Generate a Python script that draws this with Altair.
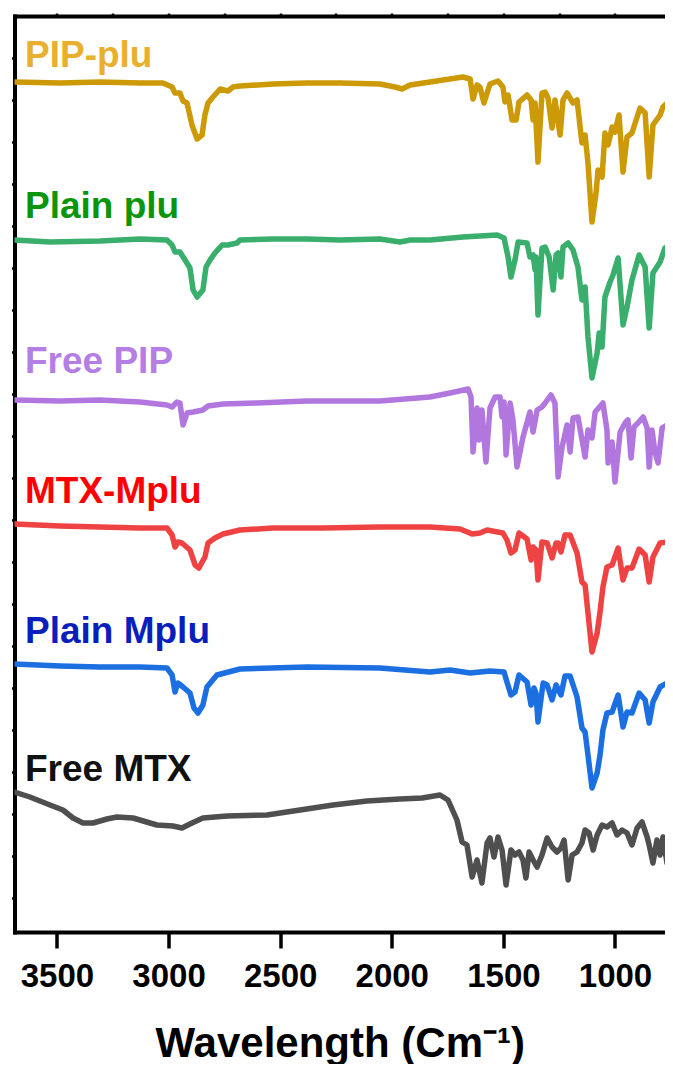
import altair as alt
import pandas as pd

# ---------------- data ----------------
names = ["PIP-plu", "Plain plu", "Free PIP", "MTX-Mplu", "Plain Mplu", "Free MTX"]

pip_plu_wn = [3690, 3486, 3307, 3128, 3025, 2984, 2971, 2949, 2935, 2917, 2895, 2872, 2850, 2837, 2823,
              2801, 2769, 2734, 2711, 2680, 2532, 2380, 2232, 2053, 1985, 1954, 1918, 1829, 1681, 1649,
              1636, 1618, 1605, 1587, 1560, 1524, 1502, 1493, 1479, 1461, 1443, 1430, 1394, 1376, 1367,
              1358, 1345, 1327, 1313, 1300, 1282, 1269, 1246, 1233, 1215, 1188, 1170, 1148, 1134, 1121,
              1103, 1085, 1076, 1058, 1045, 1031, 1013, 1000, 982, 964, 946, 924, 888, 865, 847,
              830, 798, 785, 744]
pip_plu_t = [8.50, 8.49, 8.50, 8.49, 8.49, 8.45, 8.39, 8.39, 8.31, 8.29, 8.07, 7.93, 7.97, 8.17, 8.29,
             8.35, 8.43, 8.41, 8.45, 8.46, 8.48, 8.49, 8.49, 8.48, 8.45, 8.43, 8.47, 8.50, 8.55, 8.53,
             8.33, 8.47, 8.45, 8.29, 8.48, 8.51, 8.45, 8.30, 8.37, 8.12, 8.12, 8.30, 8.37, 8.32, 8.12,
             8.29, 7.70, 8.39, 8.40, 8.34, 8.04, 8.32, 7.97, 8.32, 8.39, 8.29, 8.32, 7.89, 7.97, 7.69,
             7.10, 7.39, 7.62, 7.55, 7.99, 7.87, 8.05, 8.00, 8.17, 7.60, 7.95, 7.99, 8.24, 8.19, 7.55,
             8.07, 8.17, 8.25, 8.34]

plain_plu_wn = [3690, 3531, 3307, 3128, 3007, 2984, 2971, 2949, 2926, 2904, 2890, 2872, 2846, 2832, 2814,
                2792, 2760, 2734, 2693, 2680, 2532, 2380, 2232, 2053, 1963, 1918, 1829, 1681, 1605, 1528,
                1497, 1479, 1466, 1448, 1434, 1394, 1381, 1367, 1358, 1354, 1345, 1327, 1313, 1295, 1277,
                1264, 1255, 1242, 1233, 1210, 1188, 1166, 1148, 1134, 1121, 1103, 1080, 1071, 1058, 1045,
                1022, 1009, 986, 964, 946, 924, 892, 865, 847, 830, 798, 776, 744]
plain_plu_t = [6.92, 6.90, 6.91, 6.93, 6.92, 6.87, 6.80, 6.80, 6.72, 6.64, 6.42, 6.35, 6.42, 6.65, 6.72,
               6.79, 6.87, 6.87, 6.89, 6.92, 6.93, 6.93, 6.92, 6.93, 6.90, 6.92, 6.92, 6.95, 6.96, 6.97,
               6.94, 6.75, 6.55, 6.72, 6.90, 6.89, 6.75, 6.77, 6.62, 6.75, 6.17, 6.84, 6.85, 6.75, 6.42,
               6.77, 6.79, 6.55, 6.85, 6.89, 6.82, 6.65, 6.32, 6.45, 5.95, 5.54, 5.79, 5.99, 5.85, 6.35,
               6.50, 6.57, 6.74, 6.07, 6.25, 6.52, 6.77, 6.65, 6.04, 6.59, 6.70, 6.84, 6.88]

free_pip_wn = [3690, 3486, 3307, 3128, 3007, 2984, 2962, 2949, 2935, 2917, 2890, 2846, 2823, 2756, 2604,
               2380, 2232, 2053, 1829, 1739, 1658, 1645, 1636, 1618, 1609, 1596, 1578, 1560, 1537, 1515,
               1506, 1497, 1488, 1470, 1457, 1439, 1412, 1381, 1367, 1349, 1327, 1313, 1287, 1269, 1255,
               1237, 1215, 1201, 1188, 1166, 1134, 1121, 1103, 1089, 1054, 1036, 1031, 1013, 1000, 977,
               955, 942, 928, 915, 897, 874, 856, 847, 834, 821, 807, 789, 767, 744]
free_pip_t = [5.32, 5.31, 5.32, 5.30, 5.27, 5.25, 5.30, 5.29, 5.07, 5.19, 5.20, 5.22, 5.26, 5.28, 5.29,
              5.31, 5.31, 5.31, 5.35, 5.39, 5.43, 5.35, 4.80, 5.24, 4.92, 5.22, 4.70, 5.24, 5.35, 5.35,
              5.15, 5.30, 4.77, 5.29, 5.12, 4.65, 4.95, 5.20, 5.00, 5.22, 5.25, 5.29, 5.37, 5.29, 4.55,
              4.85, 5.07, 4.80, 5.14, 5.15, 4.75, 5.02, 4.94, 5.20, 5.29, 5.02, 4.69, 4.90, 4.50, 5.00,
              5.09, 5.12, 4.74, 5.05, 5.09, 5.15, 5.04, 4.65, 5.02, 4.80, 4.69, 5.04, 5.07, 5.14]

mtx_mplu_wn = [3690, 3486, 3307, 3128, 3007, 2984, 2971, 2958, 2940, 2904, 2881, 2864, 2837, 2823, 2792,
               2756, 2680, 2532, 2308, 2053, 1829, 1694, 1640, 1605, 1573, 1502, 1484, 1466, 1448, 1430,
               1394, 1376, 1367, 1354, 1345, 1327, 1304, 1282, 1264, 1255, 1242, 1224, 1201, 1170, 1148,
               1134, 1121, 1103, 1080, 1067, 1054, 1036, 1013, 986, 964, 946, 924, 892, 865, 847,
               830, 798, 767, 744]
mtx_mplu_t = [4.08, 4.06, 4.05, 4.04, 4.04, 3.97, 3.85, 3.90, 3.89, 3.82, 3.67, 3.64, 3.75, 3.89, 3.94,
              3.98, 4.02, 4.04, 4.04, 4.05, 4.05, 4.03, 3.98, 3.99, 4.02, 3.99, 3.92, 3.79, 3.82, 3.99,
              3.93, 3.72, 3.85, 3.82, 3.52, 3.90, 3.89, 3.74, 3.89, 3.89, 3.80, 3.97, 3.97, 3.79, 3.50,
              3.47, 3.19, 2.80, 2.99, 3.20, 3.45, 3.65, 3.67, 3.84, 3.52, 3.64, 3.64, 3.83, 3.77, 3.50,
              3.75, 3.89, 3.90, 3.89]

plain_mplu_wn = [3690, 3486, 3307, 3128, 3007, 2984, 2971, 2958, 2935, 2904, 2886, 2868, 2846, 2828, 2783,
                 2680, 2380, 2053, 1829, 1739, 1649, 1560, 1497, 1484, 1466, 1448, 1430, 1394, 1376, 1363,
                 1354, 1345, 1322, 1304, 1282, 1264, 1242, 1224, 1201, 1170, 1148, 1134, 1121, 1103, 1080,
                 1067, 1054, 1036, 1013, 986, 964, 946, 924, 892, 865, 847, 830, 798, 767, 744]
plain_mplu_t = [2.68, 2.66, 2.65, 2.65, 2.64, 2.57, 2.40, 2.49, 2.45, 2.39, 2.24, 2.19, 2.27, 2.45, 2.57,
                2.63, 2.65, 2.64, 2.60, 2.62, 2.59, 2.61, 2.60, 2.50, 2.37, 2.40, 2.57, 2.50, 2.27, 2.44,
                2.39, 2.10, 2.49, 2.47, 2.32, 2.47, 2.37, 2.56, 2.56, 2.35, 2.04, 2.00, 1.77, 1.44, 1.59,
                1.77, 2.02, 2.19, 2.20, 2.37, 2.05, 2.20, 2.19, 2.39, 2.32, 2.09, 2.30, 2.45, 2.49, 2.49]

free_mtx_wn = [3690, 3621, 3531, 3473, 3428, 3383, 3338, 3276, 3231, 3159, 3052, 2980, 2940, 2895, 2846,
               2738, 2559, 2411, 2263, 2111, 1963, 1864, 1784, 1748, 1708, 1685, 1663, 1640, 1618, 1596,
               1573, 1560, 1542, 1524, 1506, 1488, 1466, 1448, 1430, 1412, 1399, 1385, 1367, 1349, 1327,
               1304, 1282, 1260, 1242, 1228, 1210, 1192, 1170, 1148, 1134, 1116, 1098, 1080, 1058, 1036,
               1013, 991, 968, 946, 924, 901, 879, 856, 847, 830, 812, 798, 785, 767, 753,
               740]
free_mtx_t = [1.40, 1.35, 1.27, 1.22, 1.14, 1.09, 1.09, 1.13, 1.15, 1.14, 1.07, 1.06, 1.04, 1.09, 1.14,
              1.16, 1.17, 1.22, 1.27, 1.31, 1.33, 1.34, 1.37, 1.32, 1.12, 0.90, 0.87, 0.55, 0.72, 0.49,
              0.89, 0.94, 0.75, 0.95, 0.82, 0.47, 0.82, 0.77, 0.80, 0.72, 0.54, 0.80, 0.72, 0.65, 0.77,
              0.94, 0.85, 0.80, 0.84, 0.92, 0.52, 0.77, 0.80, 0.89, 1.02, 0.99, 0.82, 0.97, 1.07, 1.05,
              1.09, 0.97, 1.02, 0.99, 0.87, 1.04, 1.10, 0.95, 0.87, 0.69, 0.92, 0.77, 0.95, 0.69, 0.90,
              0.85]

# label anchors (wavenumber, transmittance units)
label_wn = [3643, 3643, 3643, 3643, 3643, 3643]
label_t = [8.65, 7.14, 5.59, 4.29, 2.89, 1.51]

bottom_ticks = [3500, 3000, 2500, 2000, 1500, 1000]
top_ticks = [3500, 3250, 3000, 2750, 2500, 2250, 2000, 1750, 1500, 1250, 1000]
left_ticks = [8.74, 8.32, 7.90, 7.48, 7.06, 6.64, 6.22, 5.80, 5.38, 4.96, 4.54,
              4.12, 3.70, 3.28, 2.86, 2.44, 2.02, 1.60, 1.18, 0.76, 0.34]

# ---------------- styles ----------------
line_colors = ["#CC9A06", "#3AAE6C", "#B277DF", "#EF4343", "#1B6FE0", "#4F4F4F"]
label_colors = ["#E9B030", "#0A950A", "#B57EE5", "#FF0000", "#0A1EBE", "#111111"]
FONT = "Liberation Sans"

series = [
    ("PIP-plu", pip_plu_wn, pip_plu_t),
    ("Plain plu", plain_plu_wn, plain_plu_t),
    ("Free PIP", free_pip_wn, free_pip_t),
    ("MTX-Mplu", mtx_mplu_wn, mtx_mplu_t),
    ("Plain Mplu", plain_mplu_wn, plain_mplu_t),
    ("Free MTX", free_mtx_wn, free_mtx_t),
]
rows = []
for name, wn, t in series:
    assert len(wn) == len(t), name
    for i, (w, v) in enumerate(zip(wn, t)):
        rows.append({"series": name, "wn": w, "T": v, "idx": i})
df = pd.DataFrame(rows)
labels_df = pd.DataFrame({"series": names, "wn": label_wn, "T": label_t})

x_scale = alt.Scale(domain=[3690, 776], nice=False, zero=False)
y_scale = alt.Scale(domain=[0, 9.16], nice=False, zero=False)

bottom_axis = alt.Axis(
    orient="bottom", values=bottom_ticks, format="d",
    title="Wavelength (Cm⁻¹)", titleFont=FONT, titleFontSize=42, titleFontWeight="bold",
    titleColor="black", titlePadding=30,
    labelFont=FONT, labelFontSize=33, labelFontWeight="bold", labelColor="black",
    labelPadding=12, labelFlush=False, labelOverlap=False,
    tickSize=16, tickWidth=3.5, tickColor="black",
    domainColor="black", domainWidth=4, domainCap="square", grid=False,
)
left_axis = alt.Axis(
    orient="left", values=left_ticks, labels=False, title=None,
    tickSize=3, tickWidth=2.5, tickColor="black",
    domainColor="black", domainWidth=4, domainCap="square", grid=False,
)
top_axis = alt.Axis(
    orient="top", values=top_ticks, labels=False, title=None,
    tickSize=3, tickWidth=2.5, tickColor="black",
    domainColor="black", domainWidth=4, domainCap="square", grid=False,
)

lines = alt.Chart(df).mark_line(
    strokeWidth=5.5, strokeJoin="round", strokeCap="round", clip=True
).encode(
    x=alt.X("wn:Q", scale=x_scale, axis=bottom_axis),
    y=alt.Y("T:Q", scale=y_scale, axis=left_axis),
    color=alt.Color("series:N", scale=alt.Scale(domain=names, range=line_colors), legend=None),
    order=alt.Order("idx:Q"),
)

texts = alt.Chart(labels_df).mark_text(
    align="left", baseline="alphabetic", font=FONT, fontSize=37, fontWeight="bold"
).encode(
    x=alt.X("wn:Q", scale=x_scale, axis=top_axis),
    y=alt.Y("T:Q", scale=y_scale, axis=left_axis),
    color=alt.Color("series:N", scale=alt.Scale(domain=names, range=label_colors), legend=None),
    text="series:N",
)

chart = alt.layer(lines, texts).resolve_axis(x="independent").resolve_scale(
    color="independent"
).properties(
    width=650.5, height=916,
    autosize=alt.AutoSizeParams(type="none"),
    padding={"left": 6.5, "top": 8, "right": 0, "bottom": 132},
).configure_view(stroke=None)

chart.save("out.html", embed_options={"renderer": "svg", "actions": False})
